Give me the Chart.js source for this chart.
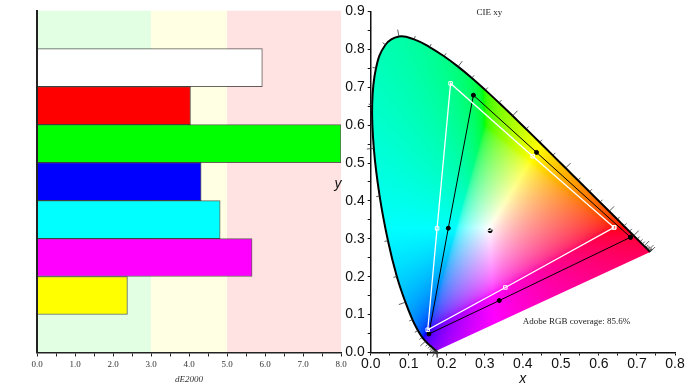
<!DOCTYPE html>
<html>
<head>
<meta charset="utf-8">
<title>dE2000 and CIE xy</title>
<script src="https://cdn.jsdelivr.net/npm/chart.js@4"></script>
<style>
  html, body { margin: 0; padding: 0; background: #fff; overflow: hidden; }
  canvas { position: absolute; top: 0; }
  #barChart { left: 0; }
  #xyChart { left: 330px; }
</style>
</head>
<body>
<canvas id="barChart" width="350" height="390"></canvas>
<canvas id="xyChart" width="363" height="390"></canvas>
<script>
// left chart: dE2000 per patch, first and last rows are empty
const patches = ['top', 'White', 'Red', 'Green', 'Blue', 'Cyan', 'Magenta', 'Yellow', 'bottom'];
const dE = [null, 5.93, 4.04, 8.0, 4.32, 4.82, 5.66, 2.38, null];
const patchColors = ['#fff', '#fff', '#f00', '#0f0', '#00f', '#0ff', '#f0f', '#ff0', '#fff'];
const zoneFrom = [0, 3, 5];
const zoneTo = [3, 5, 8];
const zoneColors = ['#e3ffe3', '#ffffe3', '#ffe3e3'];

// right chart: spectral locus, 5 nm steps
const locusNm = [380, 385, 390, 395, 400, 405, 410, 415, 420, 425, 430, 435, 440, 445, 450, 455, 460, 465, 470, 475, 480, 485, 490, 495, 500, 505, 510, 515, 520, 525, 530, 535, 540, 545, 550, 555, 560, 565, 570, 575, 580, 585, 590, 595, 600, 605, 610, 615, 620, 625, 630, 635, 640, 645, 650, 655, 660, 665, 670, 675, 680];
const locusX = [0.1741, 0.174, 0.1738, 0.1736, 0.1733, 0.173, 0.1726, 0.1721, 0.1714, 0.1703, 0.1689, 0.1669, 0.1644, 0.1611, 0.1566, 0.151, 0.144, 0.1355, 0.1241, 0.1096, 0.0913, 0.0687, 0.0454, 0.0235, 0.0082, 0.0039, 0.0139, 0.0389, 0.0743, 0.1142, 0.1547, 0.1929, 0.2296, 0.2658, 0.3016, 0.3373, 0.3731, 0.4087, 0.4441, 0.4788, 0.5125, 0.5448, 0.5752, 0.6029, 0.627, 0.6482, 0.6658, 0.6801, 0.6915, 0.7006, 0.7079, 0.714, 0.719, 0.723, 0.726, 0.7283, 0.73, 0.732, 0.7334, 0.7344, 0.7347];
const locusY = [0.005, 0.005, 0.0049, 0.0049, 0.0048, 0.0048, 0.0048, 0.0048, 0.0051, 0.0058, 0.0069, 0.0086, 0.0109, 0.0138, 0.0177, 0.0227, 0.0297, 0.0399, 0.0578, 0.0868, 0.1327, 0.2007, 0.295, 0.4127, 0.5384, 0.6548, 0.7502, 0.812, 0.8338, 0.8262, 0.8059, 0.7816, 0.7543, 0.7243, 0.6923, 0.6589, 0.6245, 0.5896, 0.5547, 0.5202, 0.4866, 0.4544, 0.4242, 0.3965, 0.3725, 0.3514, 0.334, 0.3197, 0.3083, 0.2993, 0.292, 0.2859, 0.2809, 0.277, 0.274, 0.2717, 0.27, 0.268, 0.2666, 0.2656, 0.2653];

// measured gamut: R, Y, G, C, B, M, back to R
const measuredX = [0.683, 0.436, 0.27, 0.204, 0.153, 0.338, 0.683];
const measuredY = [0.304, 0.528, 0.679, 0.328, 0.049, 0.137, 0.304];
// Adobe RGB target
const targetX = [0.64, 0.426, 0.21, 0.1745, 0.15, 0.354, 0.64];
const targetY = [0.33, 0.518, 0.71, 0.3276, 0.06, 0.1716, 0.33];
const whiteTarget = [0.312, 0.327];
const whiteMeasured = [0.314, 0.3215];

function toPoints(xs, ys) {
  return xs.map((x, i) => ({ x: x, y: ys[i] }));
}

const zonesPlugin = {
  id: 'zones',
  beforeDatasetsDraw(chart) {
    const { ctx, chartArea, scales } = chart;
    zoneFrom.forEach((from, i) => {
      const x0 = scales.x.getPixelForValue(from);
      const x1 = scales.x.getPixelForValue(zoneTo[i]);
      ctx.fillStyle = zoneColors[i];
      ctx.fillRect(x0, chartArea.top, x1 - x0, chartArea.bottom - chartArea.top);
    });
  },
};

// colour for a chromaticity: out of gamut values get white added, then scaled to full
function xyToRgb(x, y) {
  const X = x / y;
  const Z = (1 - x - y) / y;
  let r = 3.2406 * X - 1.5372 - 0.4986 * Z;
  let g = -0.9689 * X + 1.8758 + 0.0415 * Z;
  let b = 0.0557 * X - 0.204 + 1.057 * Z;
  const low = Math.min(r, g, b, 0);
  r -= low;
  g -= low;
  b -= low;
  const m = Math.max(r, g, b) || 1;
  const gamma = (c) => 255 * (c <= 0.0031308 ? 12.92 * c : 1.055 * Math.pow(c, 1 / 2.4) - 0.055);
  return [gamma(r / m), gamma(g / m), gamma(b / m)];
}

const horseshoePlugin = {
  id: 'horseshoe',
  beforeDatasetsDraw(chart) {
    const { ctx, chartArea, scales } = chart;
    const w = Math.ceil(chartArea.right - chartArea.left);
    const h = Math.ceil(chartArea.bottom - chartArea.top);
    const off = document.createElement('canvas');
    off.width = w;
    off.height = h;
    const octx = off.getContext('2d');
    const img = octx.createImageData(w, h);
    for (let py = 0; py < h; py++) {
      const yv = scales.y.getValueForPixel(chartArea.top + py + 0.5);
      for (let px = 0; px < w; px++) {
        const xv = scales.x.getValueForPixel(chartArea.left + px + 0.5);
        const c = xyToRgb(xv, Math.max(yv, 0.001));
        const k = (py * w + px) * 4;
        img.data[k] = c[0];
        img.data[k + 1] = c[1];
        img.data[k + 2] = c[2];
        img.data[k + 3] = 255;
      }
    }
    octx.putImageData(img, 0, 0);

    // same curve as the locus line, so the fill has no corners
    ctx.save();
    ctx.beginPath();
    chart.getDatasetMeta(0).dataset.path(ctx);
    ctx.closePath();
    ctx.clip();
    ctx.drawImage(off, chartArea.left, chartArea.top);
    ctx.restore();
  },
};

// wavelength marks, pointing out of the locus
const nmTicksPlugin = {
  id: 'nmTicks',
  afterDatasetsDraw(chart) {
    const { ctx, scales } = chart;
    const px = locusX.map((x) => scales.x.getPixelForValue(x));
    const py = locusY.map((y) => scales.y.getPixelForValue(y));
    ctx.save();
    ctx.strokeStyle = '#333';
    ctx.lineWidth = 0.8;
    locusNm.forEach((nm, i) => {
      const a = Math.max(i - 1, 0);
      const b = Math.min(i + 1, locusNm.length - 1);
      const dx = px[b] - px[a];
      const dy = py[b] - py[a];
      const len = Math.hypot(dx, dy) || 1;
      const size = nm % 20 === 0 ? 7 : 3.5;
      ctx.beginPath();
      ctx.moveTo(px[i], py[i]);
      ctx.lineTo(px[i] + (dy / len) * size, py[i] - (dx / len) * size);
      ctx.stroke();
    });
    ctx.restore();
  },
};

// loose text on the xy chart
const notesPlugin = {
  id: 'notes',
  afterDraw(chart) {
    const { ctx, scales } = chart;
    ctx.save();
    ctx.fillStyle = '#222';
    ctx.textBaseline = 'middle';
    ctx.textAlign = 'center';
    ctx.font = '9px "Liberation Serif"';
    ctx.fillText('CIE xy', scales.x.getPixelForValue(0.312), 12.5);
    ctx.textAlign = 'left';
    ctx.fillText('Adobe RGB coverage: 85.6%', scales.x.getPixelForValue(0.4), 322);
    ctx.fillStyle = '#111';
    ctx.textAlign = 'center';
    ctx.font = 'italic 14px "Liberation Sans"';
    ctx.fillText('y', 8, 184);
    ctx.restore();
  },
};

new Chart(document.getElementById('barChart'), {
  type: 'bar',
  data: {
    labels: patches,
    datasets: [{
      data: dE,
      backgroundColor: patchColors,
      borderColor: 'rgba(0,0,0,0.6)',
      borderWidth: 1,
      categoryPercentage: 1,
      barPercentage: 1,
    }],
  },
  options: {
    indexAxis: 'y',
    responsive: false,
    animation: false,
    layout: { padding: { top: 10.7, right: 9 } },
    plugins: { legend: { display: false }, tooltip: { enabled: false } },
    scales: {
      x: {
        min: 0,
        max: 8,
        afterFit: (s) => { s.height = 37.5; },
        grid: { drawOnChartArea: false, tickLength: 4, tickColor: '#222' },
        border: { color: '#222', width: 1.5, z: 1 },
        ticks: {
          stepSize: 0.5,
          autoSkip: false,
          maxRotation: 0,
          padding: 3,
          color: '#333',
          font: { family: 'Liberation Serif', size: 9 },
          callback: (v) => (Number.isInteger(v) ? v.toFixed(1) : ''),
        },
        title: {
          display: true,
          text: 'dE2000',
          color: '#333',
          padding: { top: 0, bottom: 5 },
          font: { family: 'Liberation Serif', size: 9, style: 'italic' },
        },
      },
      y: {
        afterFit: (s) => { s.width = 37; },
        grid: { display: false },
        border: { color: '#222', width: 2, z: 1 },
        ticks: { display: false },
      },
    },
  },
  plugins: [zonesPlugin],
});

const axisLabel = (v) => (Math.abs(v * 10 - Math.round(v * 10)) < 1e-6 ? v.toFixed(1) : '');

new Chart(document.getElementById('xyChart'), {
  type: 'scatter',
  data: {
    datasets: [
      { data: toPoints(locusX, locusY), showLine: true, tension: 0.4, borderColor: '#000', borderWidth: 2, pointRadius: 0 },
      { data: toPoints(targetX, targetY), showLine: true, borderColor: '#fff', borderWidth: 1.3, pointStyle: 'rect', pointRadius: 2.5, pointBorderColor: '#fff', pointBorderWidth: 1, pointBackgroundColor: 'rgba(255,255,255,0)' },
      { data: toPoints(measuredX, measuredY), showLine: true, borderColor: '#000', borderWidth: 1, pointRadius: 2, pointBackgroundColor: '#000', pointBorderColor: '#000' },
      { data: [{ x: whiteTarget[0], y: whiteTarget[1] }], pointStyle: 'rect', pointRadius: 2.5, pointBorderColor: '#fff', pointBorderWidth: 1, pointBackgroundColor: 'rgba(255,255,255,0)' },
      { data: [{ x: whiteMeasured[0], y: whiteMeasured[1] }], pointRadius: 2, pointBackgroundColor: '#000', pointBorderColor: '#000' },
    ],
  },
  options: {
    responsive: false,
    animation: false,
    layout: { padding: { top: 10.7, right: 18 } },
    plugins: { legend: { display: false }, tooltip: { enabled: false } },
    scales: {
      x: {
        min: 0,
        max: 0.8,
        afterFit: (s) => { s.height = 37.5; },
        grid: { drawOnChartArea: false, tickLength: 3, tickColor: '#111' },
        border: { color: '#111', width: 1.5 },
        ticks: {
          stepSize: 0.05,
          autoSkip: false,
          maxRotation: 0,
          padding: 0,
          color: '#111',
          font: { family: 'Liberation Sans', size: 14 },
          callback: axisLabel,
        },
        title: {
          display: true,
          text: 'x',
          color: '#111',
          padding: { top: 0, bottom: 2 },
          font: { family: 'Liberation Sans', size: 14, style: 'italic' },
        },
      },
      y: {
        min: 0,
        max: 0.9,
        afterFit: (s) => { s.width = 40.7; },
        grid: { drawOnChartArea: false, tickLength: 3, tickColor: '#111' },
        border: { color: '#111', width: 1.5 },
        ticks: {
          stepSize: 0.05,
          autoSkip: false,
          padding: 3,
          color: '#111',
          font: { family: 'Liberation Sans', size: 14 },
          callback: axisLabel,
        },
      },
    },
  },
  plugins: [horseshoePlugin, nmTicksPlugin, notesPlugin],
});
</script>
</body>
</html>
